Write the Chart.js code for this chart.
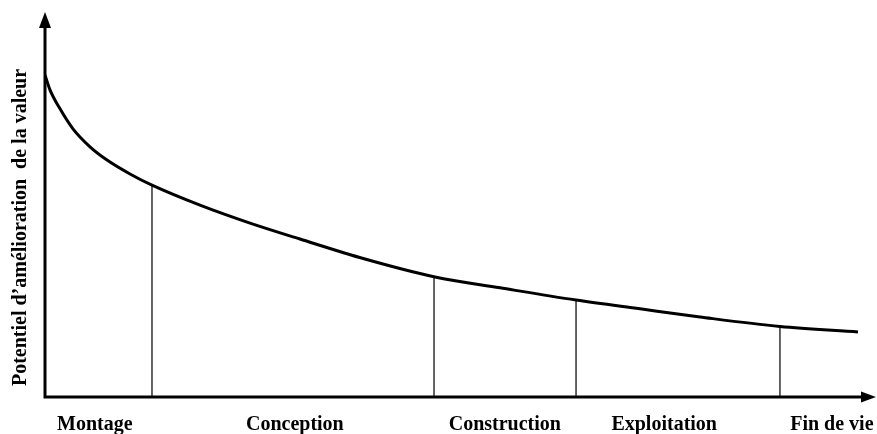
<!DOCTYPE html>
<html lang="fr">
<head>
<meta charset="UTF-8">
<title>Potentiel d'amélioration de la valeur</title>
<script src="https://cdn.jsdelivr.net/npm/chart.js"></script>
<style>
  body { margin: 0; background: #fff; }
  #wrap { width: 877px; height: 434px; position: relative; }
</style>
</head>
<body>
<div id="wrap"><canvas id="myChart"></canvas></div>
<script>
// phases du cycle de vie (libellés sous l'axe)
const phaseLabels = ['Montage', 'Conception', 'Construction', 'Exploitation', 'Fin de vie'];
const phaseLabelPos = [6.0, 30.1, 55.4, 74.6, 94.8];

// courbe du potentiel d'amélioration
const curveX = [0, 0.6, 1.81, 3.37, 5.42, 7.47, 10.24, 12.89, 18.67, 24.70, 30.72, 38.55, 46.99, 54.82, 63.98, 71.69, 78.92, 88.55, 97.95];
const curveY = [95.0, 90.6, 85.0, 79.1, 73.8, 69.9, 65.8, 62.5, 56.6, 51.3, 46.6, 40.7, 35.4, 32.2, 28.6, 26.0, 23.6, 20.8, 19.2];

// limites entre phases (traits verticaux)
const boundaryX = [12.89, 46.87, 63.98, 88.55];
const boundaryTop = [62.5, 35.4, 28.6, 20.8];

const serif = '"Liberation Serif", "Times New Roman", serif';

const datasets = [{
  data: curveX.map((x, i) => ({ x: x, y: curveY[i] })),
  borderColor: '#000',
  borderWidth: 3,
  pointRadius: 0,
  cubicInterpolationMode: 'monotone',
  order: 0
}];
boundaryX.forEach((x, i) => {
  datasets.push({
    data: [{ x: x, y: 0 }, { x: x, y: boundaryTop[i] }],
    borderColor: '#111',
    borderWidth: 1.3,
    pointRadius: 0,
    order: 1
  });
});

// axes avec flèches
const arrowAxes = {
  id: 'arrowAxes',
  afterDatasetsDraw(chart) {
    const ctx = chart.ctx;
    const a = chart.chartArea;
    const x0 = chart.scales.x.getPixelForValue(0);
    const y0 = chart.scales.y.getPixelForValue(0);
    const topY = a.top - 46;
    const rightX = chart.width - 1;
    ctx.save();
    ctx.strokeStyle = '#000';
    ctx.fillStyle = '#000';
    ctx.lineWidth = 3;
    ctx.beginPath();
    ctx.moveTo(x0, y0 + 1.5);
    ctx.lineTo(x0, topY + 12);
    ctx.moveTo(x0 - 1.5, y0);
    ctx.lineTo(rightX - 12, y0);
    ctx.stroke();
    ctx.beginPath();
    ctx.moveTo(x0, topY);
    ctx.lineTo(x0 - 6, topY + 16);
    ctx.lineTo(x0 + 6, topY + 16);
    ctx.closePath();
    ctx.fill();
    ctx.beginPath();
    ctx.moveTo(rightX, y0);
    ctx.lineTo(rightX - 15, y0 - 5.5);
    ctx.lineTo(rightX - 15, y0 + 5.5);
    ctx.closePath();
    ctx.fill();
    ctx.restore();
  }
};

new Chart(document.getElementById('myChart'), {
  type: 'line',
  data: { datasets: datasets },
  options: {
    responsive: true,
    maintainAspectRatio: false,
    animation: false,
    layout: { padding: { top: 58, right: 2, left: 0, bottom: 0 } },
    plugins: { legend: { display: false }, tooltip: { enabled: false } },
    scales: {
      x: {
        type: 'linear',
        min: 0,
        max: 100,
        grid: { display: false },
        border: { display: false },
        afterBuildTicks: scale => { scale.ticks = phaseLabelPos.map(v => ({ value: v })); },
        afterFit: scale => {
          scale.height = 37;
          scale.paddingLeft = 0;
          scale.paddingRight = 0;
        },
        ticks: {
          autoSkip: false,
          maxRotation: 0,
          padding: 8,
          color: '#000',
          font: { family: serif, size: 20, weight: 'bold' },
          callback: (value, index) => phaseLabels[index]
        }
      },
      y: {
        min: 0,
        max: 100,
        grid: { display: false },
        border: { display: false },
        ticks: { display: false },
        afterFit: scale => {
          scale.width = 45;
          scale.paddingTop = 0;
          scale.paddingBottom = 0;
        },
        title: {
          display: true,
          text: 'Potentiel d\u2019amélioration  de la valeur',
          color: '#000',
          font: { family: serif, size: 20, weight: 'bold' },
          padding: { top: 9, bottom: 0 }
        }
      }
    }
  },
  plugins: [arrowAxes]
});
</script>
</body>
</html>
